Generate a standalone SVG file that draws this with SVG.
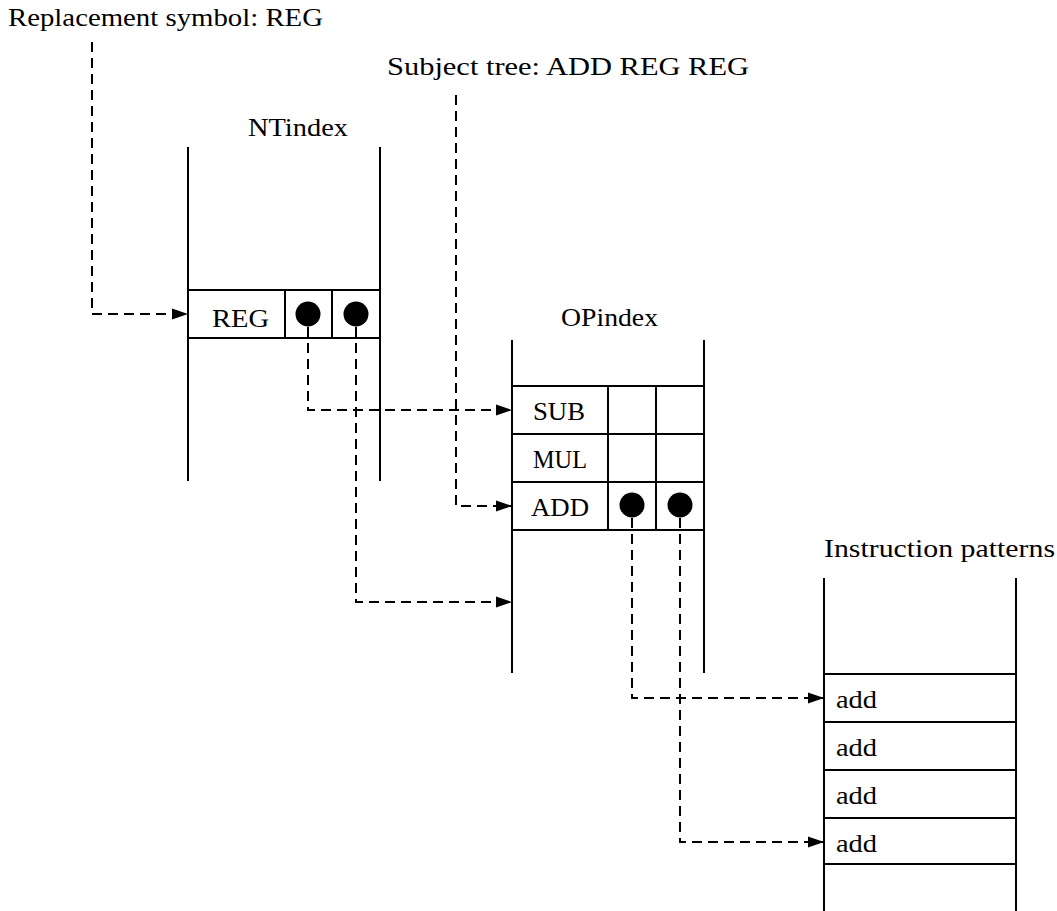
<svg xmlns="http://www.w3.org/2000/svg" width="1057" height="911" viewBox="0 0 1057 911">
<style>
text{font-family:"Liberation Serif","Times New Roman",serif;font-size:24.5px;fill:#000}
.tl{stroke:#000;stroke-width:2;fill:none}
.dash{stroke:#000;stroke-width:2;fill:none;stroke-dasharray:10 6}
.dot{fill:#000}
</style>
<defs>
<marker id="ah" markerWidth="16" markerHeight="12" refX="16" refY="6" orient="auto" markerUnits="userSpaceOnUse">
<path d="M0,0.5 L16,6 L0,11.5 Z" fill="#000"/>
</marker>
</defs>
<rect width="1057" height="911" fill="#fff"/>
<g id="labels">
<text x="8" y="26" textLength="315" lengthAdjust="spacingAndGlyphs">Replacement symbol: REG</text>
<text x="387" y="75" textLength="362" lengthAdjust="spacingAndGlyphs">Subject tree: ADD REG REG</text>
</g>
<g id="ntindex">
<text x="248" y="136" textLength="100" lengthAdjust="spacingAndGlyphs">NTindex</text>
<path class="tl" d="M188,147 V481 M380,147 V481 M188,290 H380 M188,338 H380 M285,290 V338 M332,290 V338"/>
<text x="212" y="327" textLength="57" lengthAdjust="spacingAndGlyphs">REG</text>
<circle class="dot" cx="308" cy="314" r="12.5"/>
<circle class="dot" cx="356" cy="314" r="12.5"/>
</g>
<g id="opindex">
<text x="561" y="326" textLength="97" lengthAdjust="spacingAndGlyphs">OPindex</text>
<path class="tl" d="M512,340 V673 M704,340 V673 M512,386 H704 M512,434 H704 M512,482 H704 M512,530 H704 M608,386 V530 M656,386 V530"/>
<text x="533" y="420" textLength="52" lengthAdjust="spacingAndGlyphs">SUB</text>
<text x="533" y="468" textLength="54" lengthAdjust="spacingAndGlyphs">MUL</text>
<text x="531" y="516" textLength="58" lengthAdjust="spacingAndGlyphs">ADD</text>
<circle class="dot" cx="632" cy="505" r="12.5"/>
<circle class="dot" cx="680" cy="505" r="12.5"/>
</g>
<g id="patterns">
<text x="824" y="557" textLength="231" lengthAdjust="spacingAndGlyphs">Instruction patterns</text>
<path class="tl" d="M824,578 V911 M1016,578 V911 M824,674 H1016 M824,722 H1016 M824,770 H1016 M824,818 H1016 M824,864 H1016"/>
<text x="836" y="708" textLength="41" lengthAdjust="spacingAndGlyphs">add</text>
<text x="836" y="756" textLength="41" lengthAdjust="spacingAndGlyphs">add</text>
<text x="836" y="804" textLength="41" lengthAdjust="spacingAndGlyphs">add</text>
<text x="836" y="852" textLength="41" lengthAdjust="spacingAndGlyphs">add</text>
</g>
<g id="connectors">
<path class="dash" d="M92,42 V314 H188" marker-end="url(#ah)"/>
<path class="dash" d="M456,95 V506 H512" marker-end="url(#ah)"/>
<path class="dash" d="M308,327 V410 H512" marker-end="url(#ah)"/>
<path class="dash" d="M356,327 V602 H512" marker-end="url(#ah)"/>
<path class="dash" d="M632,518 V698 H824" marker-end="url(#ah)"/>
<path class="dash" d="M680,518 V842 H824" marker-end="url(#ah)"/>
</g>
</svg>
